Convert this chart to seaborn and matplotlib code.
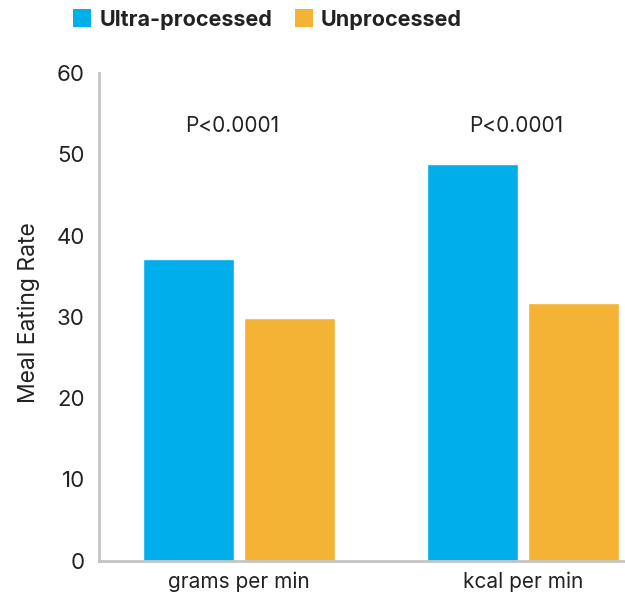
import pandas as pd
import matplotlib
matplotlib.use("Agg")
import matplotlib.pyplot as plt
from matplotlib.lines import Line2D
import seaborn as sns

# values
measures = ["grams per min", "kcal per min"]
diets = ["Ultra-processed", "Unprocessed"]
ultra_rate = [37.1, 48.8]
unproc_rate = [29.8, 31.7]
p_labels = ["P<0.0001", "P<0.0001"]
y_ticks = [0, 10, 20, 30, 40, 50, 60]

colors = {"Ultra-processed": "#00AEEB", "Unprocessed": "#F4B335"}
text_col = "#222222"

df = pd.DataFrame({
    "measure": measures * 2,
    "diet": [diets[0]] * 2 + [diets[1]] * 2,
    "rate": ultra_rate + unproc_rate,
})

sns.set_theme(style="white")
plt.rcParams["font.family"] = ["Inter", "DejaVu Sans"]

fig = plt.figure(figsize=(6.25, 5.97), dpi=100)
ax = fig.add_axes([98.7 / 625, 1 - 560.7 / 597, 1 - 98.7 / 625, (560.7 - 73) / 597])

sns.barplot(data=df, x="measure", y="rate", hue="diet", order=measures,
            hue_order=diets, palette=colors, width=0.71, gap=0.1,
            saturation=1, legend=False, ax=ax)

ax.set_xlim(-0.494, 1.36)
ax.set_ylim(0, 60)
ax.set_yticks(y_ticks)
ax.tick_params(axis="both", length=0, labelsize=16, colors=text_col, pad=10)
ax.tick_params(axis="x", labelsize=15, pad=8)
ax.set_xlabel("")
ax.set_ylabel("Meal Eating Rate", fontsize=16.5, color=text_col)
ax.yaxis.set_label_coords(-0.112, 0.508)

for side in ["top", "right"]:
    ax.spines[side].set_visible(False)
for side in ["left", "bottom"]:
    ax.spines[side].set_color("#c4c4c4")
    ax.spines[side].set_linewidth(2)

for i, lab in enumerate(p_labels):
    ax.text(i - 0.025, 53.5, lab, ha="center", va="center", fontsize=15, color=text_col)

handles = [Line2D([], [], marker="s", linestyle="none", markersize=13,
                  markerfacecolor=colors[d], markeredgewidth=0) for d in diets]
fig.legend(handles, diets, loc="upper left", bbox_to_anchor=(62 / 625, 1 + 1 / 597),
           ncol=2, frameon=False, borderpad=0, handlelength=0.9, handletextpad=0.35,
           columnspacing=1.0, prop={"size": 15.5, "weight": "bold"}, labelcolor=text_col)

fig.savefig("out.png", dpi=100)
